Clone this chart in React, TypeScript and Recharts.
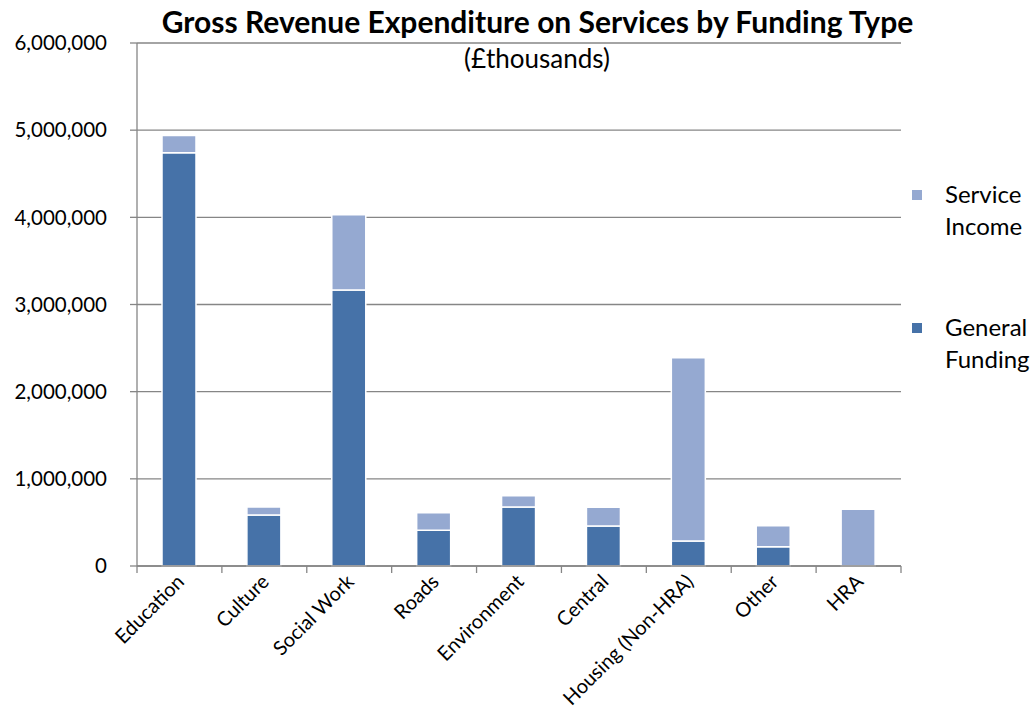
import { BarChart, Bar, XAxis, YAxis, CartesianGrid } from 'recharts';

const categories = ['Education', 'Culture', 'Social Work', 'Roads', 'Environment', 'Central', 'Housing (Non-HRA)', 'Other', 'HRA'];
const generalFunding = [4740000, 585000, 3165000, 410000, 677000, 459000, 287000, 221000, 0];
const serviceIncome = [200000, 92000, 865000, 200000, 129000, 214000, 2103000, 241000, 650000];
const yTicks = [0, 1000000, 2000000, 3000000, 4000000, 5000000, 6000000];

const chartData = categories.map((name, i) => ({
  name,
  general: generalFunding[i],
  service: serviceIncome[i],
}));

const DARK = '#4672A8';
const LIGHT = '#95A9D1';
const AXIS = '#868686';
const FONT = 'Lato, "Liberation Sans", sans-serif';

const PLOT_LEFT = 137;
const PLOT_RIGHT = 901;
const BAND = (PLOT_RIGHT - PLOT_LEFT) / categories.length;

const fmt = (v: number) => v.toLocaleString('en-GB');

const XTick = (props: any) => {
  const { x, y, payload, index } = props;
  const half = BAND / 2;
  return (
    <g>
      <line x1={x - half} x2={x - half} y1={y} y2={y + 7} stroke={AXIS} strokeWidth={1.3} />
      {index === categories.length - 1 && (
        <line x1={x + half} x2={x + half} y1={y} y2={y + 7} stroke={AXIS} strokeWidth={1.3} />
      )}
      <text
        x={x + 6}
        y={y + 17}
        transform={`rotate(-45, ${x + 6}, ${y + 17})`}
        textAnchor="end"
        fontFamily={FONT}
        fontSize={20}
        fill="#000"
      >
        {payload.value}
      </text>
    </g>
  );
};

const LegendItem = ({ color, lines, top }: { color: string; lines: string[]; top: number }) => (
  <div style={{ position: 'absolute', left: 912, top, fontFamily: FONT, fontSize: 24, lineHeight: '32px', color: '#000' }}>
    <span style={{ position: 'absolute', left: 0, top: 12, width: 10, height: 10, background: color }} />
    {lines.map((l) => (
      <div key={l} style={{ marginLeft: 33 }}>{l}</div>
    ))}
  </div>
);

export default function App() {
  return (
    <div style={{ position: 'absolute', left: 0, top: 0, width: 1034, height: 710, background: '#fff' }}>
      <BarChart
        width={1034}
        height={710}
        data={chartData}
        margin={{ top: 43, right: 1034 - PLOT_RIGHT, left: 0, bottom: 0 }}
      >
        <CartesianGrid vertical={false} stroke={AXIS} strokeWidth={1.3} />
        <XAxis
          dataKey="name"
          height={144}
          interval={0}
          tickLine={false}
          tickSize={0}
          tickMargin={0}
          axisLine={{ stroke: AXIS, strokeWidth: 1.3 }}
          tick={<XTick />}
        />
        <YAxis
          width={PLOT_LEFT}
          domain={[0, 6000000]}
          ticks={yTicks}
          tickFormatter={fmt}
          tickSize={7}
          tickMargin={23}
          tickLine={{ stroke: AXIS, strokeWidth: 1.3 }}
          axisLine={{ stroke: AXIS, strokeWidth: 1.3 }}
          tick={{ fontFamily: FONT, fontSize: 20.5, fill: '#000' }}
          interval={0}
        />
        <Bar dataKey="general" stackId="a" fill={DARK} stroke="#fff" strokeWidth={1.5} barSize={34} isAnimationActive={false} />
        <Bar dataKey="service" stackId="a" fill={LIGHT} stroke="#fff" strokeWidth={1.5} barSize={34} isAnimationActive={false} />
      </BarChart>
      <div style={{ position: 'absolute', left: 0, top: 3, width: 1075, textAlign: 'center', fontFamily: FONT, fontWeight: 700, fontSize: 30, color: '#000' }}>
        Gross Revenue Expenditure on Services by Funding Type
      </div>
      <div style={{ position: 'absolute', left: 0, top: 42, width: 1074, textAlign: 'center', fontFamily: FONT, fontSize: 26, color: '#000' }}>
        (£thousands)
      </div>
      <LegendItem color={LIGHT} lines={['Service', 'Income']} top={178} />
      <LegendItem color={DARK} lines={['General', 'Funding']} top={311} />
    </div>
  );
}
